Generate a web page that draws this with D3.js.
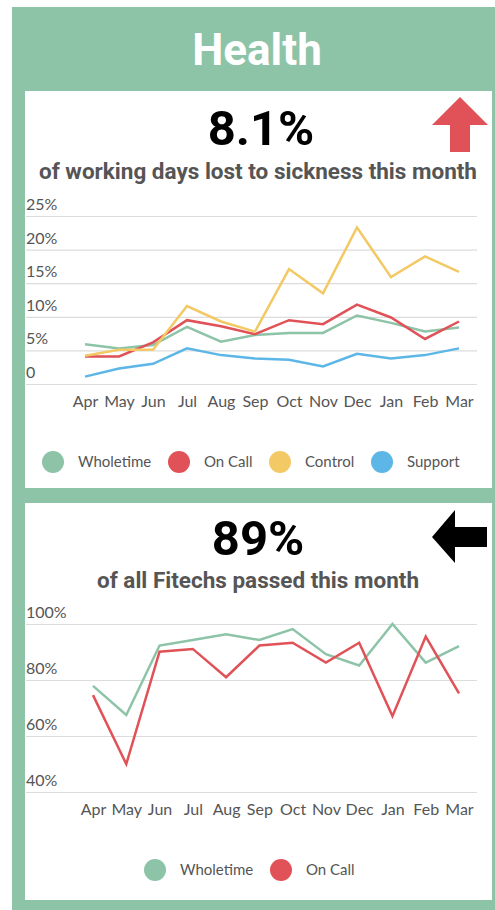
<!DOCTYPE html>
<html>
<head>
<meta charset="utf-8">
<script src="https://cdn.jsdelivr.net/npm/d3@7"></script>
<style>
  body { margin: 0; background: #fff; }
  svg { display: block; }
</style>
</head>
<body>
<div id="chart"></div>
<script>
var months = ["Apr","May","Jun","Jul","Aug","Sep","Oct","Nov","Dec","Jan","Feb","Mar"];

// sickness, % of working days lost
var sickWholetime = [5.9, 5.3, 5.8, 8.5, 6.3, 7.3, 7.6, 7.6, 10.2, 9.1, 7.8, 8.4];
var sickOnCall    = [4.1, 4.1, 6.2, 9.5, 8.6, 7.4, 9.5, 8.9, 11.8, 9.9, 6.7, 9.3];
var sickControl   = [4.2, 5.1, 5.1, 11.6, 9.3, 7.8, 17.1, 13.5, 23.3, 15.9, 19.0, 16.7];
var sickSupport   = [1.1, 2.3, 3.0, 5.3, 4.3, 3.8, 3.6, 2.6, 4.5, 3.8, 4.3, 5.3];
var sickTicks = [0, 5, 10, 15, 20, 25];

// fitechs passed, %
var fitWholetime = [77.9, 67.5, 92.3, 94.3, 96.3, 94.3, 98.2, 89.2, 85.2, 100, 86.2, 92.1];
var fitOnCall    = [74.6, 50.0, 90.1, 91.1, 81.0, 92.3, 93.3, 86.2, 93.3, 67.1, 95.5, 75.2];
var fitTicks = [40, 60, 80, 100];

var green = "#8dc4a8", red = "#e05257", yellow = "#f2c964", blue = "#5cb6e6";
var textGrey = "#555";
var axisFont = "Lato, 'Open Sans', sans-serif";
var headFont = "Roboto, sans-serif";

var svg = d3.select("#chart").append("svg")
    .attr("width", 495)
    .attr("height", 910);

// background frame
svg.append("rect").attr("x", 12).attr("y", 7).attr("width", 483).attr("height", 903).attr("fill", green);
svg.append("text")
    .attr("x", 257).attr("y", 65)
    .attr("text-anchor", "middle")
    .style("font-family", headFont).style("font-weight", "bold").style("font-size", "44px")
    .attr("fill", "#fff")
    .text("Health");

function panel(top, h) {
  svg.append("rect").attr("x", 25).attr("y", top).attr("width", 467).attr("height", h).attr("fill", "#fff");
}
panel(91, 397);
panel(503, 397);

function headline(big, bigX, bigY, sub, subY) {
  svg.append("text")
      .attr("x", bigX).attr("y", bigY)
      .attr("text-anchor", "middle")
      .style("font-family", headFont).style("font-weight", "bold").style("font-size", "49px")
      .attr("fill", "#000")
      .text(big);
  svg.append("text")
      .attr("x", 258).attr("y", subY)
      .attr("text-anchor", "middle")
      .style("font-family", headFont).style("font-weight", "bold").style("font-size", "22.5px")
      .attr("fill", textGrey)
      .text(sub);
}
headline("8.1%", 261, 145, "of working days lost to sickness this month", 179);
headline("89%", 258, 555, "of all Fitechs passed this month", 588);

// arrows
svg.append("path")
    .attr("d", "M460,97 L488,125 L470,125 L470,152 L450,152 L450,125 L432,125 Z")
    .attr("fill", red);
svg.append("path")
    .attr("d", "M432,537 L455,510 L455,527 L487,527 L487,547 L455,547 L455,563 Z")
    .attr("fill", "#000");

function lineChart(opts) {
  var x = d3.scalePoint().domain(months).range(opts.xRange);
  var y = d3.scaleLinear().domain(opts.domain).range(opts.yRange);

  var g = svg.append("g");

  // gridlines + left labels
  g.append("g")
    .attr("transform", "translate(26,0)")
    .call(d3.axisRight(y).tickValues(opts.ticks).tickSize(451).tickFormat(""))
    .call(function(a) {
      a.select(".domain").remove();
      a.selectAll(".tick line").attr("stroke", "#dcdcdc").attr("stroke-width", 1.2);
    });

  g.selectAll(".ylab")
    .data(opts.ticks)
    .enter().append("text")
      .attr("x", 26)
      .attr("y", function(d) { return y(d) - 6; })
      .style("font-family", axisFont).style("font-size", "16px")
      .attr("fill", textGrey)
      .text(opts.fmt);

  g.append("g")
    .attr("transform", "translate(0," + opts.xLabY + ")")
    .call(d3.axisBottom(x).tickSize(0).tickPadding(0))
    .call(function(a) {
      a.select(".domain").remove();
      a.selectAll("text")
        .style("font-family", axisFont).style("font-size", "16px")
        .attr("fill", textGrey);
    });

  var line = d3.line()
    .x(function(d, i) { return x(months[i]); })
    .y(function(d) { return y(d); });

  opts.series.forEach(function(s) {
    g.append("path")
      .datum(s.values)
      .attr("fill", "none")
      .attr("stroke", s.color)
      .attr("stroke-width", 2.5)
      .attr("stroke-linejoin", "miter")
      .attr("d", line);
  });

  var leg = g.selectAll(".leg")
    .data(opts.series)
    .enter().append("g")
      .attr("transform", function(d, i) { return "translate(" + opts.legendX[i] + "," + opts.legendY + ")"; });
  leg.append("circle").attr("r", 11).attr("fill", function(d) { return d.color; });
  leg.append("text")
    .attr("x", 25).attr("y", 5)
    .style("font-family", axisFont).style("font-size", "15px")
    .attr("fill", textGrey)
    .text(function(d) { return d.name; });
}

lineChart({
  domain: [0, 25],
  yRange: [384, 216],
  xRange: [85, 459],
  ticks: sickTicks,
  fmt: function(d) { return d === 0 ? "0" : d + "%"; },
  xLabY: 396,
  series: [
    {name: "Wholetime", color: green, values: sickWholetime},
    {name: "On Call", color: red, values: sickOnCall},
    {name: "Control", color: yellow, values: sickControl},
    {name: "Support", color: blue, values: sickSupport}
  ],
  legendX: [53, 179, 280, 382],
  legendY: 462
});

lineChart({
  domain: [40, 100],
  yRange: [792, 624],
  xRange: [93, 459],
  ticks: fitTicks,
  fmt: function(d) { return d + "%"; },
  xLabY: 804,
  series: [
    {name: "Wholetime", color: green, values: fitWholetime},
    {name: "On Call", color: red, values: fitOnCall}
  ],
  legendX: [155, 281],
  legendY: 870
});
</script>
</body>
</html>
